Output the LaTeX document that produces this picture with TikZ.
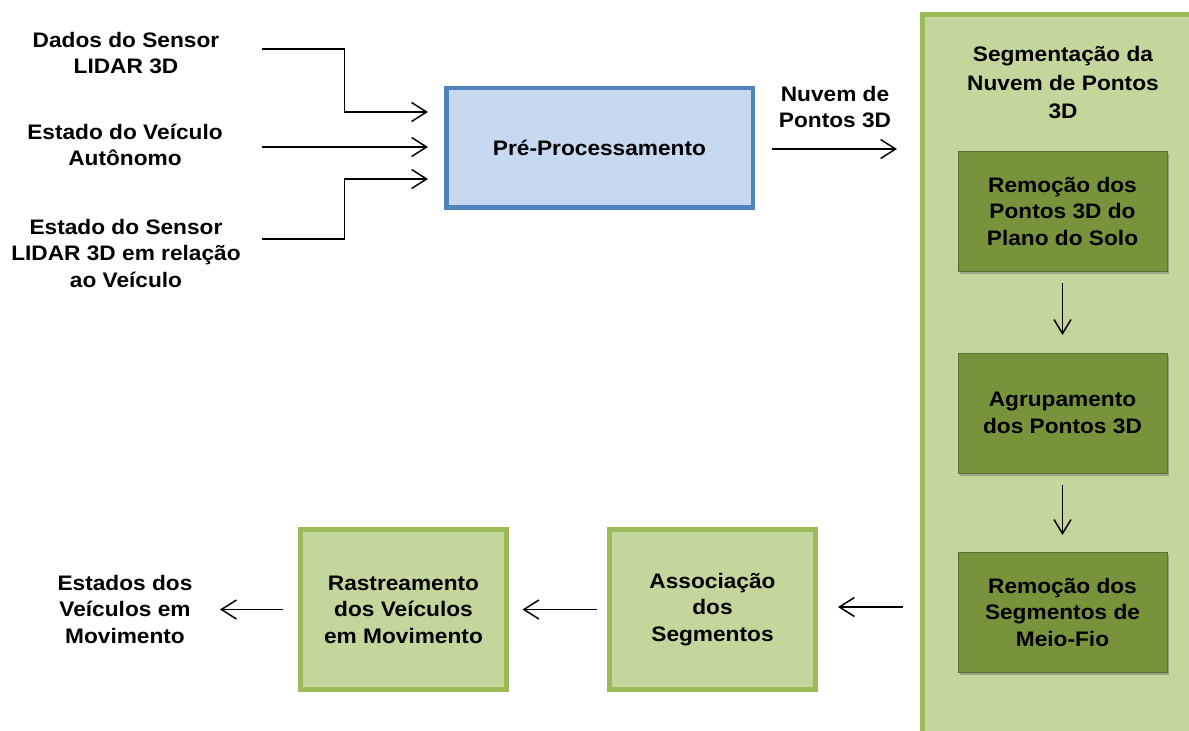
\documentclass[tikz,border=0pt]{standalone}
\usepackage{fontspec}
\setmainfont{Liberation Sans}[FakeStretch=1.08]
\usetikzlibrary{arrows.meta,shadows}
\definecolor{blueB}{HTML}{4F81BD}
\definecolor{blueF}{HTML}{C6D9F1}
\definecolor{greenB}{HTML}{9BBB59}
\definecolor{greenF}{HTML}{C3D69B}
\definecolor{darkF}{HTML}{77933C}
\definecolor{darkB}{HTML}{5A7030}
\begin{document}
\begin{tikzpicture}[x=1pt,y=-1pt,
  every node/.style={font=\fontsize{21}{26.5}\selectfont\bfseries, align=center, inner sep=0pt, outer sep=0pt},
  arr/.style={draw=black, line width=1.5pt, -{Straight Barb[length=15pt,width=19pt,line width=1.5pt]}},
  darr/.style={draw=black, line width=1.5pt, -{Straight Barb[length=14pt,width=17pt,line width=1.5pt]}},
  prebox/.style={draw=blueB, fill=blueF, line width=4.5pt, minimum width=306.5pt, minimum height=119.5pt},
  lgbox/.style={draw=greenB, fill=greenF, line width=5pt, minimum width=206pt, minimum height=160pt},
  dkbox/.style={draw=darkB, fill=darkF, line width=1pt, minimum width=209pt, minimum height=120pt,
     drop shadow={shadow xshift=2pt, shadow yshift=-3pt, opacity=0.45, fill=black!60}},
  panelbox/.style={draw=greenB, fill=greenF, line width=5pt}
]
\path[use as bounding box] (0,0) rectangle (1189,731);
\clip (0,0) rectangle (1189,731);

% right panel
\draw[panelbox] (922.5,14.5) rectangle (1200,745);
\node[font=\fontsize{21}{28.5}\selectfont\bfseries] (segtitle) at (1063,83) {Segmentação da\\Nuvem de Pontos\\3D};

% inputs
\node (in1) at (126,53) {Dados do Sensor\\LIDAR 3D};
\node (in2) at (125,145) {Estado do Veículo\\Autônomo};
\node (in3) at (126,253) {Estado do Sensor\\LIDAR 3D em relação\\ao Veículo};

% pre-processing
\node[prebox] (pre) at (599.5,147.5) {Pré-Processamento};

\coordinate (s1) at (262,49);
\coordinate (s2) at (262,147);
\coordinate (s3) at (262,239);
\coordinate (e1) at (428,112);
\coordinate (e2) at (428,147);
\coordinate (e3) at (428,179);
\draw[arr] (s1) -- (344.5,49) |- (e1);
\draw[arr] (s2) -- (e2);
\draw[arr] (s3) -- (344.5,239) |- (e3);

% output of pre-processing
\node (nuvem) at (835,107) {Nuvem de\\Pontos 3D};
\coordinate (n0) at (772,149);
\coordinate (n1) at (897,149);
\draw[arr] (n0) -- (n1);

% segmentation boxes
\node[dkbox] (b1) at (1062.5,211) {Remoção dos\\Pontos 3D do\\Plano do Solo};
\node[dkbox] (b2) at (1062.5,413) {Agrupamento\\dos Pontos 3D};
\node[dkbox] (b3) at (1062.5,612) {Remoção dos\\Segmentos de\\Meio-Fio};
\draw[darr, shorten <=12pt, shorten >=18pt] (b1.south) -- (b2.north);
\draw[darr, shorten <=12pt, shorten >=17pt] (b2.south) -- (b3.north);

% bottom row
\node[lgbox] (assoc) at (712.5,609.5) {Associação\\dos\\Segmentos};
\node[lgbox] (rast) at (403.5,609.5) {Rastreamento\\dos Veículos\\em Movimento};
\node (out) at (125,609) {Estados dos\\Veículos em\\Movimento};

\coordinate (c3) at (903,607);
\coordinate (c4) at (838,607);
\draw[arr] (c3) -- (c4);
\draw[arr, shorten <=13pt, shorten >=16pt] (assoc.west) -- (rast.east);
\coordinate (o1) at (220,609.5);
\draw[arr, shorten <=18pt] (rast.west) -- (o1);
\end{tikzpicture}
\end{document}
